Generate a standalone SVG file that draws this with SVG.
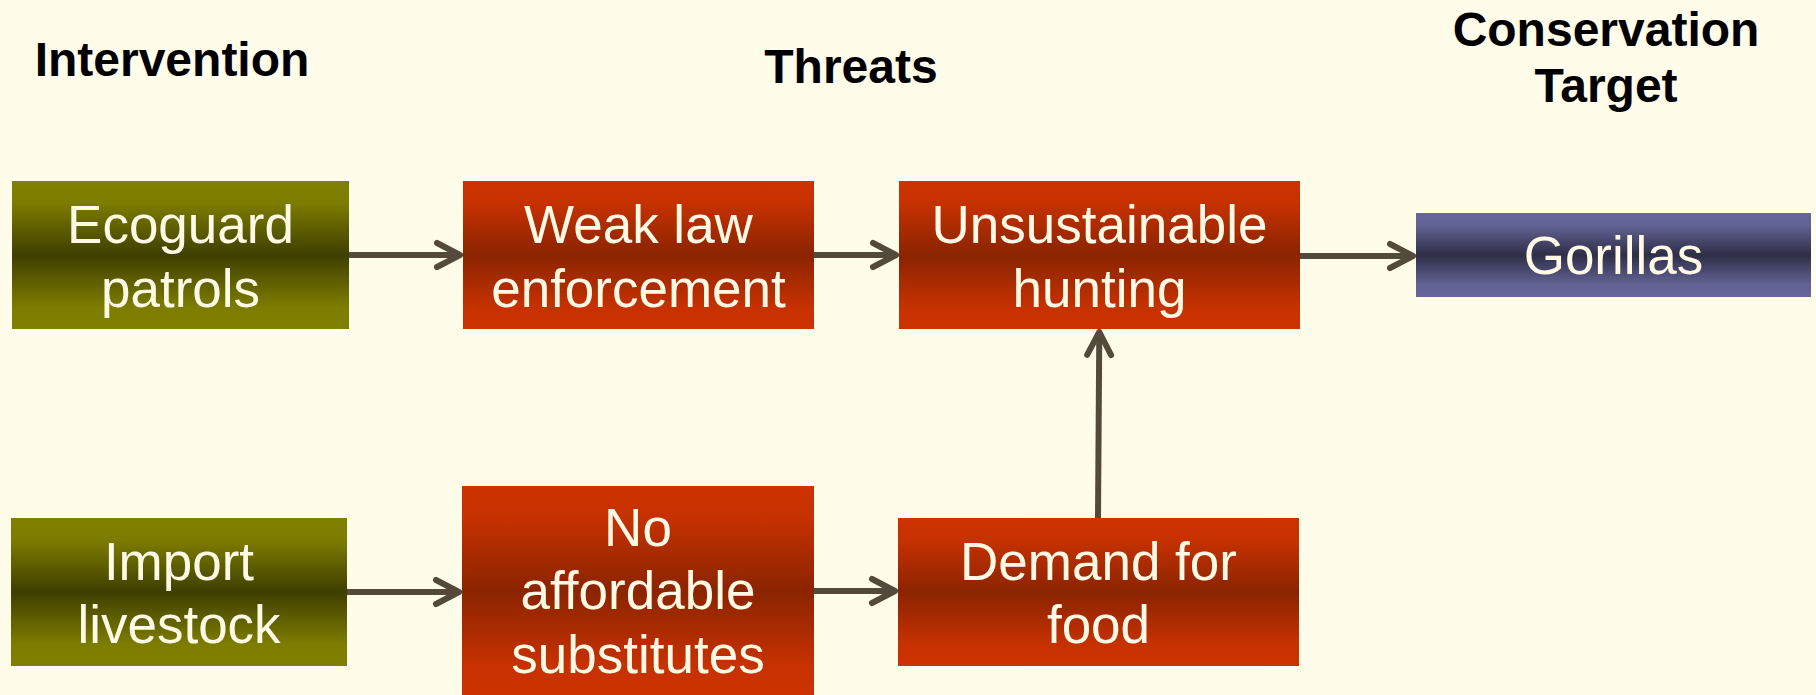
<svg xmlns="http://www.w3.org/2000/svg" width="1816" height="695" viewBox="0 0 1816 695">
  <defs>
    <linearGradient id="gOlive" x1="0" y1="0" x2="0" y2="1">
      <stop offset="0" stop-color="#808000"/>
      <stop offset="0.15" stop-color="#7c7c00"/>
      <stop offset="0.5" stop-color="#3f3f00"/>
      <stop offset="0.85" stop-color="#7c7c00"/>
      <stop offset="1" stop-color="#808000"/>
    </linearGradient>
    <linearGradient id="gRed" x1="0" y1="0" x2="0" y2="1">
      <stop offset="0" stop-color="#cc3300"/>
      <stop offset="0.15" stop-color="#c63100"/>
      <stop offset="0.5" stop-color="#8a2400"/>
      <stop offset="0.85" stop-color="#c63100"/>
      <stop offset="1" stop-color="#cc3300"/>
    </linearGradient>
    <linearGradient id="gBlue" x1="0" y1="0" x2="0" y2="1">
      <stop offset="0" stop-color="#666699"/>
      <stop offset="0.15" stop-color="#626294"/>
      <stop offset="0.5" stop-color="#2e2e47"/>
      <stop offset="0.85" stop-color="#626294"/>
      <stop offset="1" stop-color="#666699"/>
    </linearGradient>
    <marker id="head" markerUnits="userSpaceOnUse" viewBox="-30 -16 34 32" markerWidth="34" markerHeight="32" refX="0" refY="0" orient="auto" overflow="visible">
      <path d="M-23,-12 L0,0 L-23,12" fill="none" stroke="#544a3b" stroke-width="6" stroke-linecap="round" stroke-linejoin="round"/>
    </marker>
  </defs>
  <style>
    .title { font-family: "Liberation Sans", Arial, sans-serif; font-weight: bold; font-size: 48px; fill: #000000; text-anchor: middle; }
    .label { font-family: "Liberation Sans", Arial, sans-serif; font-size: 53px; fill: #fff9e6; text-anchor: middle; }
    .link { fill: none; stroke: #544a3b; stroke-width: 6; marker-end: url(#head); }
  </style>

  <!-- page background -->
  <rect x="0" y="0" width="1816" height="695" fill="#fffcea"/>

  <!-- column headings -->
  <g id="headings">
    <text class="title" x="172" y="76">Intervention</text>
    <text class="title" x="851" y="83">Threats</text>
    <text class="title" x="1606" y="46">Conservation</text>
    <text class="title" x="1606" y="102">Target</text>
  </g>

  <!-- connectors -->
  <g id="connectors">
    <path class="link" d="M349,255 L460,255"/>
    <path class="link" d="M814,255 L896,255"/>
    <path class="link" d="M1300,256 L1413,256"/>
    <path class="link" d="M347,592 L459,592"/>
    <path class="link" d="M814,591 L895,591"/>
    <path class="link" d="M1098,518 L1099.3,332"/>
  </g>

  <!-- interventions -->
  <g id="ecoguard-patrols">
    <rect x="12" y="181" width="337" height="148" fill="url(#gOlive)"/>
    <text class="label" x="180.5" y="243">Ecoguard</text>
    <text class="label" x="180.5" y="307">patrols</text>
  </g>
  <g id="import-livestock">
    <rect x="11" y="518" width="336" height="148" fill="url(#gOlive)"/>
    <text class="label" x="179" y="580">Import</text>
    <text class="label" x="179" y="643">livestock</text>
  </g>

  <!-- threats -->
  <g id="weak-law-enforcement">
    <rect x="463" y="181" width="351" height="148" fill="url(#gRed)"/>
    <text class="label" x="638.5" y="243">Weak law</text>
    <text class="label" x="638.5" y="307">enforcement</text>
  </g>
  <g id="unsustainable-hunting">
    <rect x="899" y="181" width="401" height="148" fill="url(#gRed)"/>
    <text class="label" x="1099.5" y="243">Unsustainable</text>
    <text class="label" x="1099.5" y="307">hunting</text>
  </g>
  <g id="no-affordable-substitutes">
    <rect x="462" y="486" width="352" height="210" fill="url(#gRed)"/>
    <text class="label" x="638" y="546">No</text>
    <text class="label" x="638" y="609">affordable</text>
    <text class="label" x="638" y="673">substitutes</text>
  </g>
  <g id="demand-for-food">
    <rect x="898" y="518" width="401" height="148" fill="url(#gRed)"/>
    <text class="label" x="1098.5" y="580">Demand for</text>
    <text class="label" x="1098.5" y="643">food</text>
  </g>

  <!-- conservation target -->
  <g id="gorillas">
    <rect x="1416" y="213" width="395" height="84" fill="url(#gBlue)"/>
    <text class="label" x="1613.5" y="274">Gorillas</text>
  </g>
</svg>
